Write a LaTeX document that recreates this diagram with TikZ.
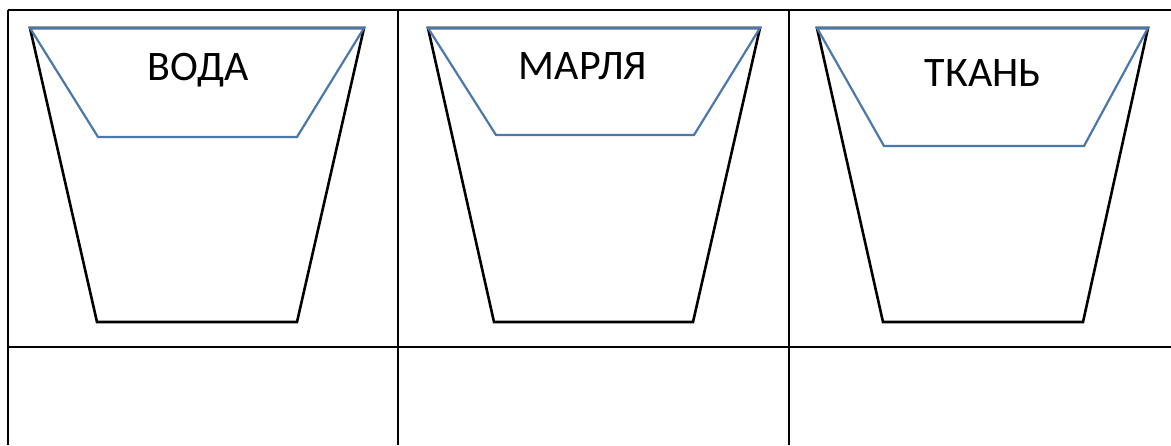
\documentclass[tikz,border=0pt]{standalone}
\usepackage{fontspec}
\setmainfont{Carlito}
\usepackage{tikz}

\definecolor{linenblue}{RGB}{74,120,170}

\begin{document}
\begin{tikzpicture}[
		x=1pt,
		y=-1pt,
		every node/.style={font=\fontsize{42}{44}\selectfont},
		glass/.style={line width=2.6pt, line join=miter},
		waterline/.style={draw=linenblue, line width=2.2pt, line join=miter},
		tableline/.style={line width=1.1pt}
		]
		
		\useasboundingbox (0,0) rectangle (1171,445);
		
		% Table lines.
		\draw[tableline] (8,10) -- (1171,10);
		\draw[tableline] (8,347) -- (1171,347);
		\draw[tableline] (8,10) -- (8,445);
		\draw[tableline] (398,10) -- (398,445);
		\draw[tableline] (789,10) -- (789,445);
		
		% Glasses: top left, top right, bottom left, bottom right, fill level.
		\foreach \TopL/\TopR/\BotL/\BotR/\Lvl/\LvlL/\LvlR in
		{30/364/97/297/137/98/297,
		 428/760/494/693/135/496/694,
		 817/1148/883/1083/146/884/1084}{
			\draw[glass] (\TopL,28) -- (\BotL,322) -- (\BotR,322) -- (\TopR,28) -- cycle;
			\draw[waterline] (\TopL,28) -- (\LvlL,\Lvl) -- (\LvlR,\Lvl) -- (\TopR,28) -- cycle;
		}
		
		% Labels.
		\node (voda) at (198,70) {ВОДА};
		\node (marlya) at (583,66) {МАРЛЯ};
		\node (tkan) at (983,73) {ТКАНЬ};
		
	\end{tikzpicture}
\end{document}
